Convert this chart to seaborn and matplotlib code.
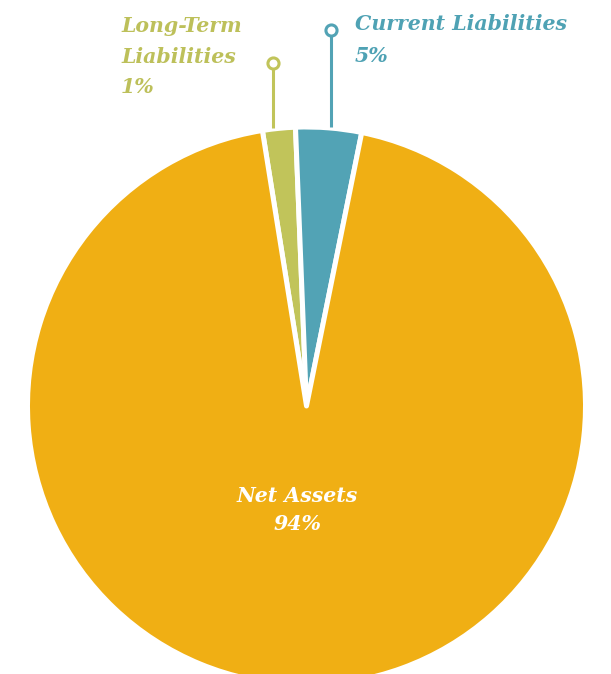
import matplotlib
matplotlib.use("Agg")
import matplotlib.pyplot as plt
import seaborn as sns

categories = ["Long-Term Liabilities", "Current Liabilities", "Net Assets"]
values = [1.9, 3.8, 94.3]
pct_labels = ["1%", "5%", "94%"]

sns.set_style("white")
plt.rcParams["font.family"] = ["DejaVu Serif"]

colors = ["#C1C45A", "#52A3B5", "#F0AF14"]
text_colors = ["#BDC05A", "#4FA2B4", "#FFFFFF"]

fig = plt.figure(figsize=(6.11, 6.74), dpi=100)
ax = fig.add_axes([0, 0, 1, 1])
cx, cy, R = 306.5, 674 - 406, 279

wedges, _ = ax.pie(values, colors=colors, startangle=99.1, counterclock=False,
                   radius=R, center=(cx, cy),
                   wedgeprops=dict(edgecolor="white", linewidth=3.6, joinstyle="round"))
ax.set_xlim(0, 611)
ax.set_ylim(0, 674)
ax.set_aspect("equal")
ax.axis("off")

font = dict(fontweight="bold", fontstyle="italic", fontsize=14.8)

# leader lines with hollow circles
leaders = [(273, 674 - 128, 674 - 63), (331, 674 - 127, 674 - 30)]
for (x, y0, y1), c in zip(leaders, colors[:2]):
    ax.plot([x, x], [y0, y1 - 4], color=c, lw=2.2, solid_capstyle="butt", zorder=3)
    ax.plot([x], [y1], marker="o", ms=8, mfc="white", mec=c, mew=2.2, zorder=4)

lt_lines = ["Long-Term", "Liabilities", pct_labels[0]]
for line, yb in zip(lt_lines, [32, 63, 93]):
    ax.text(121, 674 - yb, line, color=text_colors[0], ha="left", va="baseline", **font)
ax.text(355, 674 - 30, "Current Liabilities", color=text_colors[1], ha="left", va="baseline", **font)
ax.text(355, 674 - 62, pct_labels[1], color=text_colors[1], ha="left", va="baseline", **font)
ax.text(297, 674 - 502, "Net Assets", color=text_colors[2], ha="center", va="baseline", **font)
ax.text(298, 674 - 530, pct_labels[2], color=text_colors[2], ha="center", va="baseline", **font)

fig.savefig("out.png", dpi=100)
